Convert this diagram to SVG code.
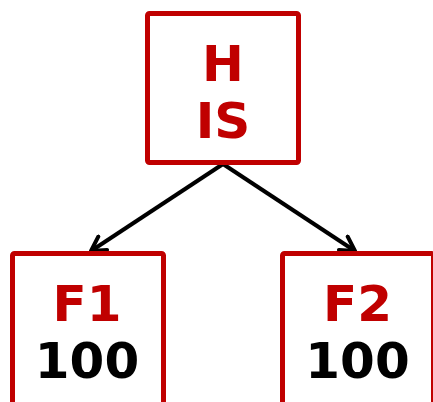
<svg xmlns="http://www.w3.org/2000/svg" width="433" height="402" viewBox="0 0 433 402">
<style>
.box{fill:#fff;stroke:#c00000;stroke-width:5}
.t{font-family:"DejaVu Sans",Verdana,sans-serif;font-weight:bold;font-size:50px;text-anchor:middle}
.red{fill:#c00000}
.blk{fill:#000}
.edge{fill:none;stroke:#000;stroke-width:4}
</style>
<defs>
<marker id="arr" markerUnits="userSpaceOnUse" viewBox="-16 -10 20 20" refX="0" refY="0" markerWidth="20" markerHeight="20" orient="auto">
<path d="M-14,-8 L0,0 L-14,8" fill="none" stroke="#000" stroke-width="4" stroke-linecap="round" stroke-linejoin="round"/>
</marker>
</defs>
<g id="edges">
<path class="edge" d="M223,164 L91,251" marker-end="url(#arr)"/>
<path class="edge" d="M223,164 L355,251" marker-end="url(#arr)"/>
</g>
<g id="H">
<rect class="box" x="147.5" y="13.5" width="151" height="149" rx="2"/>
<text class="t red" x="223" y="81">H</text>
<text class="t red" x="223" y="138">IS</text>
</g>
<g id="F1">
<rect class="box" x="12.5" y="253.5" width="151" height="170" rx="2"/>
<text class="t red" x="87" y="321">F1</text>
<text class="t blk" x="87" y="378">100</text>
</g>
<g id="F2">
<rect class="box" x="282.5" y="253.5" width="151" height="170" rx="2"/>
<text class="t red" x="357.5" y="321">F2</text>
<text class="t blk" x="357.5" y="378">100</text>
</g>
</svg>
